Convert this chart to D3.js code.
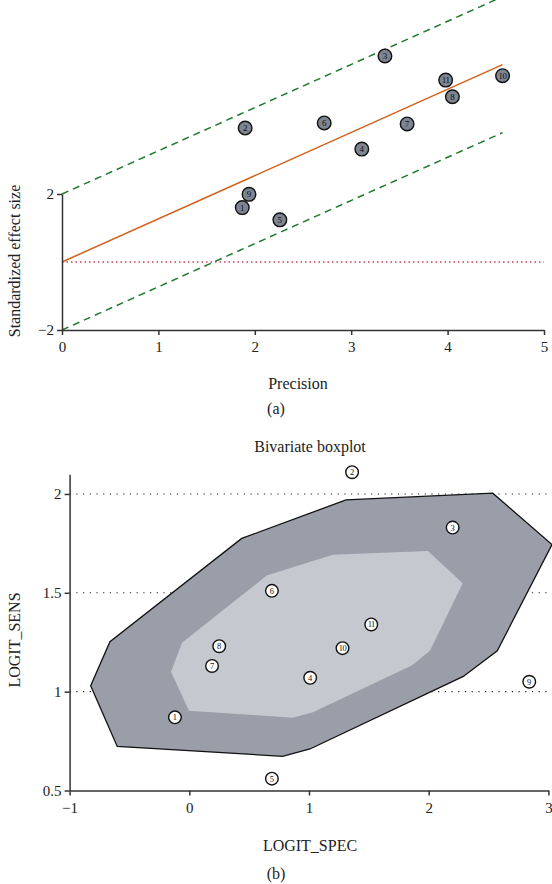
<!DOCTYPE html>
<html><head><meta charset="utf-8">
<script src="https://cdn.jsdelivr.net/npm/d3@7"></script>
<style>body{margin:0;background:#fff}svg{display:block;font-family:"Liberation Serif","DejaVu Serif",serif}</style>
</head><body><svg id="c" width="552" height="884"></svg>
<script>
// ---- (a) Galbraith plot data ----
const galStudies = ["1","2","3","4","5","6","7","8","9","10","11"];
const galPrecision = [1.87,1.90,3.35,3.11,2.26,2.72,3.58,4.05,1.94,4.57,3.98];
const galEffect = [1.60,3.94,6.06,3.32,1.24,4.09,4.06,4.86,1.99,5.48,5.35];
const galSlope = 1.27;
const galBand = 2;
const galXTicks = [0,1,2,3,4,5];
const galYTicks = [-2,2];

// ---- (b) Bivariate boxplot data ----
const bbStudies = ["1","2","3","4","5","6","7","8","9","10","11"];
const bbSpec = [-0.12,1.36,2.20,1.01,0.69,0.69,0.19,0.25,2.84,1.28,1.52];
const bbSens = [0.87,2.11,1.83,1.07,0.56,1.51,1.13,1.23,1.05,1.22,1.34];
const outerSpec = [-0.824,-0.663,0.438,1.309,2.535,3.03,2.573,2.289,1.008,0.779,-0.602];
const outerSens = [1.030,1.253,1.775,1.970,2.004,1.744,1.207,1.077,0.710,0.673,0.723];
const innerSpec = [-0.061,0.647,1.198,1.994,2.284,2.011,1.858,1.033,0.866,-0.003,-0.153];
const innerSens = [1.248,1.587,1.693,1.711,1.549,1.207,1.132,0.896,0.868,0.904,1.101];
const bbXTicks = [-1,0,1,2,3];
const bbYTicks = [0.5,1,1.5,2];
const bbGrid = [1,1.5,2];

const svg = d3.select("#c");
const axisCol = "#333";
const labelSize = "16px", tickSize = "15px";

// ===== Panel (a) =====
const xA = d3.scaleLinear().domain([0,5]).range([62,544]);
const yA = d3.scaleLinear().domain([-2,2]).range([330,194]);
const gA = svg.append("g");

gA.append("line").attr("x1",xA(0)).attr("x2",xA(5)).attr("y1",yA(0)).attr("y2",yA(0))
  .attr("stroke","#c8405a").attr("stroke-width",1.3).attr("stroke-dasharray","1.5,3");
const xMax = d3.max(galPrecision);
[galBand,-galBand].forEach(b=>{
  gA.append("line").attr("x1",xA(0)).attr("y1",yA(b)).attr("x2",xA(xMax)).attr("y2",yA(b+galSlope*xMax))
    .attr("stroke","#1f7a2e").attr("stroke-width",1.5).attr("stroke-dasharray","7,5");
});
gA.append("line").attr("x1",xA(0)).attr("y1",yA(0)).attr("x2",xA(xMax)).attr("y2",yA(galSlope*xMax))
  .attr("stroke","#d2601a").attr("stroke-width",1.5);

const axA = gA.append("g").attr("transform",`translate(0,${yA(-2)})`)
  .call(d3.axisBottom(xA).tickValues(galXTicks).tickFormat(d3.format("d")).tickSize(5).tickSizeOuter(0));
const ayA = gA.append("g").attr("transform",`translate(${xA(0)},0)`)
  .call(d3.axisLeft(yA).tickValues(galYTicks).tickFormat(d=>d<0?"\u2212"+Math.abs(d):d).tickSize(5).tickSizeOuter(0));
[axA,ayA].forEach(a=>{a.selectAll("path,line").attr("stroke",axisCol).attr("stroke-width",1.5);
  a.selectAll("text").attr("fill","#222").style("font-size",tickSize).style("font-family","Liberation Serif");});
axA.selectAll("text").attr("dy","0.95em");

const pA = gA.selectAll("g.pt").data(galStudies).join("g")
  .attr("transform",(d,i)=>`translate(${xA(galPrecision[i])},${yA(galEffect[i])})`);
pA.append("circle").attr("r",6.8).attr("fill","#7d8591").attr("stroke","#111").attr("stroke-width",1.4);
pA.append("text").text(d=>d).attr("text-anchor","middle").attr("dy","0.35em")
  .style("font-size","9px").attr("fill","#111").attr("letter-spacing",d=>d.length>1?"-0.5px":null);

svg.append("text").attr("x",298).attr("y",389).attr("text-anchor","middle").style("font-size",labelSize).attr("fill","#222").text("Precision");
svg.append("text").attr("transform","translate(20,261) rotate(-90)").attr("text-anchor","middle").style("font-size",labelSize).attr("fill","#222").text("Standardized effect size");
svg.append("text").attr("x",276).attr("y",414).attr("text-anchor","middle").style("font-size",labelSize).attr("fill","#222").text("(a)");

// ===== Panel (b) =====
const xB = d3.scaleLinear().domain([-1,3]).range([69.6,548.4]);
const yB = d3.scaleLinear().domain([0.5,2.1]).range([790.5,474.2]);
const gB = svg.append("g");

svg.append("text").attr("x",310).attr("y",452).attr("text-anchor","middle").style("font-size",labelSize).attr("fill","#222").text("Bivariate boxplot");

gB.selectAll("line.grid").data(bbGrid).join("line")
  .attr("x1",xB(-1)).attr("x2",xB(3)).attr("y1",d=>yB(d)).attr("y2",d=>yB(d))
  .attr("stroke","#222").attr("stroke-width",1.1).attr("stroke-dasharray","1.2,5.5");

const line = d3.line();
gB.append("path").attr("d",line(outerSpec.map((s,i)=>[xB(s),yB(outerSens[i])]))+"Z")
  .attr("fill","#999ea8").attr("stroke","#111").attr("stroke-width",1.3);
gB.append("path").attr("d",line(innerSpec.map((s,i)=>[xB(s),yB(innerSens[i])]))+"Z")
  .attr("fill","#c5c8cf").attr("stroke","none");

const axB = gB.append("g").attr("transform",`translate(0,${yB(0.5)})`)
  .call(d3.axisBottom(xB).tickValues(bbXTicks).tickFormat(d=>d<0?"\u2212"+Math.abs(d):d).tickSize(5).tickSizeOuter(0));
const ayB = gB.append("g").attr("transform",`translate(${xB(-1)},0)`)
  .call(d3.axisLeft(yB).tickValues(bbYTicks).tickFormat(d=>d).tickSize(5).tickSizeOuter(0));
[axB,ayB].forEach(a=>{a.selectAll("path,line").attr("stroke",axisCol).attr("stroke-width",1.5);
  a.selectAll("text").attr("fill","#222").style("font-size",tickSize).style("font-family","Liberation Serif");});
axB.selectAll("text").attr("dy","0.95em");

const pB = gB.selectAll("g.pt").data(bbStudies).join("g")
  .attr("transform",(d,i)=>`translate(${xB(bbSpec[i])},${yB(bbSens[i])})`);
pB.append("circle").attr("r",6.3).attr("fill","#fff").attr("stroke","#111").attr("stroke-width",1.4);
pB.append("text").text(d=>d).attr("text-anchor","middle").attr("dy","0.35em")
  .style("font-size","8.5px").attr("fill","#111").attr("letter-spacing",d=>d.length>1?"-0.6px":null);

svg.append("text").attr("x",310).attr("y",851).attr("text-anchor","middle").style("font-size",labelSize).attr("fill","#222").text("LOGIT_SPEC");
svg.append("text").attr("transform","translate(20,640) rotate(-90)").attr("text-anchor","middle").style("font-size",labelSize).attr("fill","#222").text("LOGIT_SENS");
svg.append("text").attr("x",276).attr("y",879).attr("text-anchor","middle").style("font-size",labelSize).attr("fill","#222").text("(b)");
</script></body></html>
